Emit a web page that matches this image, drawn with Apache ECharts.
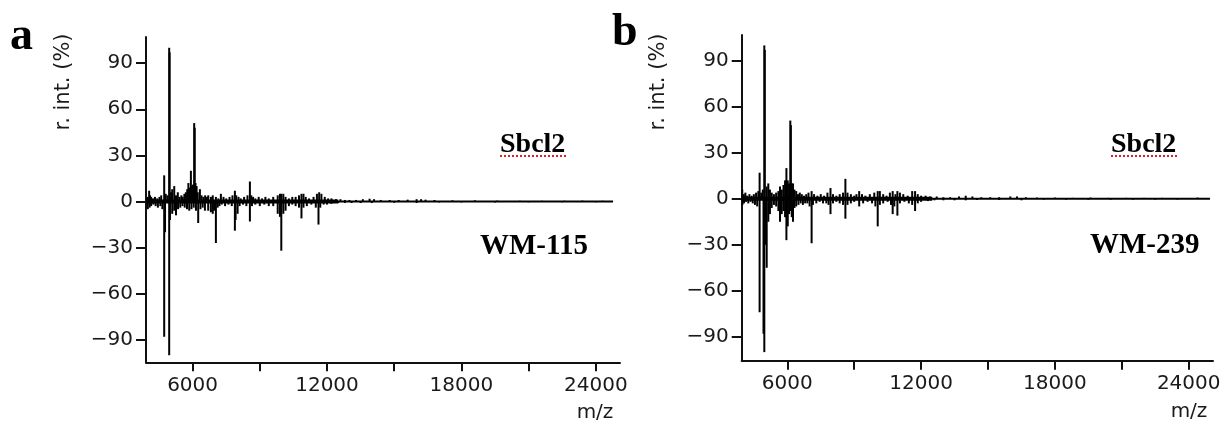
<!DOCTYPE html>
<html><head><meta charset="utf-8">
<script src="https://cdn.jsdelivr.net/npm/echarts@6/dist/echarts.min.js"></script>
<style>html,body{margin:0;padding:0;background:#fff}#c{width:1226px;height:421px}</style>
</head><body><div id="c"></div>
<script>
// ---- tick labels / texts ----
const xLabelTicks = [6000, 12000, 18000, 24000];
const xTickMarks = [6000, 9000, 12000, 15000, 18000, 21000, 24000];
const yTicks = [-90, -60, -30, 0, 30, 60, 90];
const panelLetters = ['a', 'b'];
const topLabels = ['Sbcl2', 'Sbcl2'];
const bottomLabels = ['WM-115', 'WM-239'];
const yName = 'r. int. (%)';
const xName = 'm/z';

// ---- panel a : Sbcl2 (up) vs WM-115 (down) ----
const aPosMz = [4000,4060,4100,4150,4230,4320,4420,4520,4600,4732,4800,4880,4955,4975,5040,5090,5180,5260,5340,5420,5500,5560,5634,5700,5760,5812,5860,5924,5970,6020,6071,6095,6130,6178,6230,6326,6400,6480,6560,6640,6700,6817,6900,7040,7150,7263,7380,7500,7650,7780,7888,7950,8050,8150,8300,8450,8558,8620,8700,8800,8950,9100,9250,9400,9600,9800,9900,9960,10050,10150,10300,10450,10600,10750,10860,10950,11050,11200,11400,11550,11650,11750,11900,12050,12200,12400,12600,12800,13000,13300,13600,13900,14100,14400,14800,15200,15600,16000,16200,16400,16800,17600,18600,19600,20600,21600,22600,23400,24300];
const aPosInt = [3,7,4,3,2,3,2,3,4,17,5,4,100,97,6,8,10,4,6,3,4,3,5,6,8,12,9,20,10,11,51,48,12,10,6,8,4,3,4,3,4,3,4,3,2,5,3,2,3,4,7,4,3,2,3,4,13,4,3,2,3,2,3,2,3,4,5,5,5,3,2,3,3,4,5,5,3,2,3,5,6,5,3,2,2,1.5,1.5,1,1,1,1.5,1.8,1.5,1,1,1,1.2,1.5,1.5,1.2,1,0.8,0.8,0.6,0.5,0.5,0.5,0.6,0.5];
const aNegMz = [4000,4080,4150,4250,4350,4450,4560,4650,4732,4770,4955,4990,5090,5180,5260,5350,5450,5550,5650,5750,5850,5950,6050,6150,6250,6350,6450,6550,6697,6817,6900,6960,7040,7120,7200,7300,7450,7600,7750,7888,7920,8009,8100,8250,8400,8558,8650,8800,9000,9200,9400,9600,9800,9900,9960,10050,10150,10300,10450,10600,10750,10860,10950,11100,11300,11500,11620,11700,11850,12000,12200,12500,12800,13100,13500,14000,15000,16000,17000,18000,19500,21000,22500,24000];
const aNegInt = [-5,-4,-3,-2,-3,-4,-3,-5,-88,-20,-100,-12,-8,-6,-9,-5,-4,-3,-4,-5,-6,-5,-4,-6,-14,-5,-4,-6,-6,-7,-8,-6,-27,-4,-3,-2,-3,-2,-3,-19,-12,-8,-3,-2,-3,-13,-3,-2,-3,-2,-3,-3,-8,-10,-32,-8,-6,-3,-2,-3,-4,-11,-4,-3,-2,-4,-15,-4,-2,-2,-1.5,-1,-1,-1,-1,-1,-0.8,-1,-0.6,-0.6,-0.6,-0.5,-0.5,-0.5];
const aBaseline = [[3920, 0], [24770, 0]];
const aBaseNoisy = [[3920, 0], [12500, 0]];

// ---- panel b : Sbcl2 (up) vs WM-239 (down) ----
const bPosMz = [3980,4050,4120,4200,4300,4400,4500,4600,4700,4758,4830,4900,4969,4990,5076,5148,5220,5300,5400,5500,5600,5672,5750,5830,5900,5960,6020,6080,6135,6160,6200,6255,6320,6400,6480,6560,6650,6750,6850,6950,7090,7200,7350,7500,7650,7800,7937,8050,8200,8350,8500,8605,8700,8850,9000,9100,9224,9350,9500,9700,9900,10054,10150,10300,10450,10600,10726,10850,10937,11050,11200,11400,11600,11730,11850,12000,12200,12400,12700,13000,13300,13700,14000,14300,14700,15100,15500,16000,16300,16700,17200,18000,18800,19600,20400,21200,22000,22800,23600,24400];
const bPosInt = [6,3,4,2,3,2,3,4,5,17,4,6,100,97,8,10,6,4,3,4,5,8,6,9,12,20,12,10,51,48,10,10,6,5,3,4,3,2,3,4,5,3,2,3,2,4,7,3,2,3,4,13,4,3,2,3,5,3,2,3,4,5,5,3,2,4,5,3,5,4,3,2,5,5,3,2,2,1.5,1.5,1,1,1.5,2,1.5,1,1,1,1.5,1.5,1,0.8,0.8,0.6,0.8,0.6,0.6,0.6,0.6,0.5,0.8];
const bNegMz = [3990,4060,4150,4250,4350,4450,4550,4650,4758,4933,4969,5020,5076,5148,5220,5300,5400,5500,5600,5672,5750,5830,5900,5960,6020,6080,6135,6200,6255,6320,6400,6500,6600,6700,6800,6900,7000,7090,7150,7300,7450,7600,7750,7850,7937,8050,8200,8350,8500,8605,8700,8850,9000,9224,9400,9600,9800,9950,10054,10150,10300,10500,10650,10726,10800,10937,11050,11250,11450,11600,11730,11850,12000,12300,12600,13000,13500,14000,14500,15500,16500,17500,18500,19500,20500,21500,22500,23500];
const bNegInt = [-4,-3,-2,-3,-2,-3,-4,-5,-74,-88,-100,-30,-45,-15,-10,-6,-4,-5,-8,-15,-10,-8,-12,-27,-18,-10,-8,-12,-15,-6,-5,-4,-3,-4,-3,-3,-5,-29,-4,-3,-2,-3,-3,-4,-10,-3,-2,-3,-4,-13,-4,-3,-2,-5,-3,-2,-3,-5,-18,-4,-3,-2,-4,-10,-5,-11,-3,-2,-3,-4,-8,-3,-2,-1.5,-1,-1,-1,-1,-0.8,-0.8,-1,-0.6,-0.6,-0.6,-0.6,-0.6,-0.6,-0.5];
const bBaseline = [[3955, 0], [24955, 0]];
const bBaseNoisy = [[3955, 0], [12500, 0]];

// ---- build ----
const zip = (xs, ys) => xs.map((x, i) => [x, ys[i]]);
const INK = '#111';
const TXT = '#1a1a1a';
const FONT = '"DejaVu Sans", Verdana, sans-serif';
const SERIF = '"Liberation Serif", "Times New Roman", serif';

const grids = [
  { left: 146, top: 37, width: 474, height: 325.3 },
  { left: 741.7, top: 35, width: 471.3, height: 325.7 }
];
const xRanges = [[3920, 25080], [3955, 25090]];
const yRanges = [[-104.6, 107], [-105.6, 106.8]];

function xAxisFor(i) {
  return {
    type: 'value', gridIndex: i, min: xRanges[i][0], max: xRanges[i][1],
    splitLine: { show: false },
    axisLine: { onZero: false, lineStyle: { color: INK, width: 2 } },
    axisTick: { show: true, length: 9, lineStyle: { color: INK, width: 2 }, customValues: xTickMarks },
    axisLabel: { customValues: xLabelTicks, color: TXT, fontSize: 20, fontFamily: FONT, margin: 13,
      formatter: v => String(v) }
  };
}
function yAxisFor(i) {
  return {
    type: 'value', gridIndex: i, min: yRanges[i][0], max: yRanges[i][1],
    splitLine: { show: false },
    axisLine: { show: true, onZero: false, lineStyle: { color: INK, width: 2 } },
    axisTick: { show: true, length: 10, lineStyle: { color: INK, width: 2 }, customValues: yTicks },
    axisLabel: { customValues: yTicks, color: TXT, fontSize: 20, fontFamily: FONT, margin: 13,
      formatter: v => String(v).replace('-', '\u2212') }
  };
}
function peakSeries(i, data) {
  return { type: 'bar', xAxisIndex: i, yAxisIndex: i, data: data, barWidth: 2, barGap: '-100%',
    itemStyle: { color: '#000' }, silent: true, animation: false };
}
function baseSeries(i, data, w) {
  return { type: 'line', xAxisIndex: i, yAxisIndex: i, data: data, symbol: 'none',
    lineStyle: { color: '#000', width: w }, silent: true, animation: false };
}

const series = [
  baseSeries(0, aBaseline, 2), baseSeries(0, aBaseNoisy, 4),
  peakSeries(0, zip(aPosMz, aPosInt).concat(zip(aNegMz, aNegInt))),
  baseSeries(1, bBaseline, 2), baseSeries(1, bBaseNoisy, 4),
  peakSeries(1, zip(bPosMz, bPosInt).concat(zip(bNegMz, bNegInt)))
];

// text placement (pixel positions; top-left / centre anchors)
const letterPos = [[10, 14], [612, 10]];
const yNamePos = [[64, 82], [659, 82]];
const xNamePos = [[595, 413], [1189, 412]];
const topLabelPos = [[500, 131], [1111, 131]];
const underlineY = [156, 156];
const bottomLabelPos = [[480, 232], [1090, 231]];

const graphic = [];
for (let i = 0; i < 2; i++) {
  graphic.push({ type: 'text', x: letterPos[i][0], y: letterPos[i][1],
    style: { text: panelLetters[i], font: 'bold 46px ' + SERIF, fill: '#000', align: 'left', verticalAlign: 'top' } });
  graphic.push({ type: 'text', x: yNamePos[i][0], y: yNamePos[i][1], rotation: Math.PI / 2,
    style: { text: yName, font: '21px ' + FONT, fill: TXT, align: 'center', verticalAlign: 'middle' } });
  graphic.push({ type: 'text', x: xNamePos[i][0], y: xNamePos[i][1],
    style: { text: xName, font: '20px ' + FONT, fill: TXT, align: 'center', verticalAlign: 'middle' } });
  graphic.push({ type: 'text', x: topLabelPos[i][0], y: topLabelPos[i][1],
    style: { text: topLabels[i], font: 'bold 28px ' + SERIF, fill: '#000', align: 'left', verticalAlign: 'top' } });
  graphic.push({ type: 'line', shape: { x1: topLabelPos[i][0], y1: underlineY[i], x2: topLabelPos[i][0] + 67, y2: underlineY[i] },
    style: { stroke: '#e02020', lineWidth: 2, lineDash: [2, 2] } });
  graphic.push({ type: 'text', x: bottomLabelPos[i][0], y: bottomLabelPos[i][1],
    style: { text: bottomLabels[i], font: 'bold 29px ' + SERIF, fill: '#000', align: 'left', verticalAlign: 'top' } });
}

const chart = echarts.init(document.getElementById('c'), null, { renderer: 'canvas' });
chart.setOption({
  animation: false,
  backgroundColor: '#fff',
  grid: grids,
  xAxis: [xAxisFor(0), xAxisFor(1)],
  yAxis: [yAxisFor(0), yAxisFor(1)],
  series: series,
  graphic: graphic
});
</script></body></html>
